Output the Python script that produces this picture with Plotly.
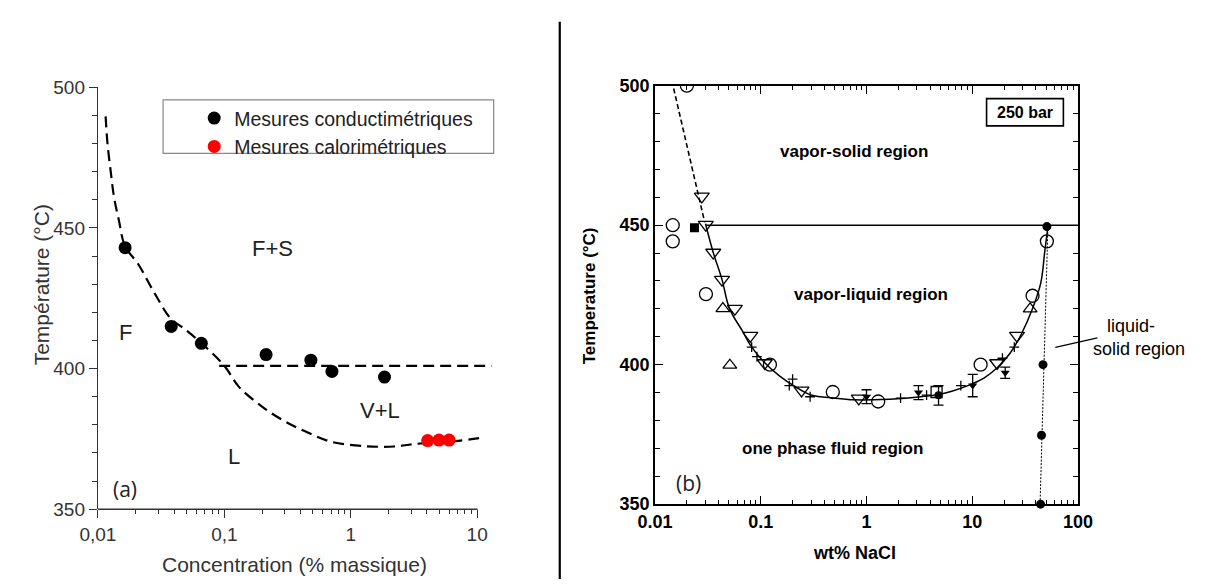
import plotly.graph_objects as go

# The page body adds an 8px margin, so the figure is 16px smaller than the window
W, H = 1189, 571
OFF = 8

def px(x):
    return (x - OFF) / W

def py(y):
    return 1 - (y - OFF) / H

# ---------------- Panel (a) data ----------------
a_curve_x = [0.0115, 0.0119, 0.0126, 0.0134, 0.0146, 0.0164, 0.0208, 0.0279, 0.0376, 0.0475,
             0.066, 0.1, 0.13, 0.2, 0.3, 0.44, 0.7, 1.33, 2.2, 3.2, 7.1, 11.5]
a_curve_t = [489.7, 480, 470.3, 461, 453, 443.5, 437.2, 427, 417.8, 414.4,
             409, 401, 393.6, 386.4, 381.3, 377.6, 374, 372.4, 372.3, 373.2, 374.3, 375.6]
a_plateau_x = [0.091, 13]
a_plateau_t = [401, 401]
cond_x = [0.0164, 0.038, 0.0658, 0.214, 0.484, 0.71, 1.85]
cond_t = [443, 415, 409, 405, 403, 399, 397]
calo_x = [4.06, 4.99, 6.0]
calo_t = [374.4, 374.6, 374.6]
a_xticks = [0.01, 0.1, 1, 10]
a_xticktext = ["0,01", "0,1", "1", "10"]
a_yticks = [350, 400, 450, 500]

# ---------------- Panel (b) data ----------------
b_dash_x = [0.015, 0.0295]
b_dash_t = [499, 451]
b_tie_x = [0.0305, 100]
b_tie_t = [450, 450]
b_curve_x = [0.0300, 0.0355, 0.043, 0.0506, 0.067, 0.08, 0.106, 0.15, 0.214, 0.3, 0.5, 0.76,
             1.16, 2.34, 4.75, 6.4, 9.1, 12.9, 17.1, 22.7, 29.1, 37.2, 44.5, 48.6, 52]
b_curve_t = [450.5, 440.2, 430.5, 420.1, 412.1, 406.9, 401.1, 396, 392, 389.1, 388, 387.4,
             387.4, 388, 389.3, 390.5, 392.5, 395.2, 398.8, 404, 410.9, 420.1, 429.3, 440.8, 449.4]
b_solid_x = [52, 43.8]
b_solid_t = [450, 350]
circ_x = [0.02, 0.0147, 0.0147, 0.0303, 0.122, 0.48, 1.29, 12.0, 37.2, 50.8]
circ_t = [500, 450, 444.2, 425.3, 400, 390.2, 386.8, 400, 424.7, 444.2]
tdown_x = [0.0277, 0.0302, 0.0355, 0.043, 0.0569, 0.0797, 0.109, 0.243, 0.845, 17.2, 26.5]
tdown_t = [460.3, 450.2, 440.2, 430.5, 420.1, 410.4, 400.6, 390.8, 387.9, 400.6, 410.4]
tup_x = [0.0438, 0.051, 35.3]
tup_t = [420.1, 399.8, 420]
sq_open_x = [4.6]
sq_open_t = [390.2]
sq_fill_x = [0.0236]
sq_fill_t = [449.1]
plus_x = [0.082, 0.092, 0.186, 0.2, 0.293, 2.1, 3.7, 7.8, 19.3, 25]
plus_t = [406.3, 402.9, 392.5, 394.8, 388.5, 388, 389.1, 392.5, 402.3, 406.3]
err_x = [1.0, 3.1, 10.1, 20.5]
err_t = [388.5, 390, 392.5, 397.1]
err_e = [2.5, 2.5, 4, 2]
errc_x = [4.8]
errc_t = [389]
errc_e = [3.5]
dot_x = [50.8, 46.7, 45.2, 44.3]
dot_t = [449.5, 400, 374.7, 350]
b_xticks = [0.01, 0.1, 1, 10, 100]
b_xticktext = ["0.01", "0.1", "1", "10", "100"]
b_yticks = [350, 400, 450, 500]

minor_log = [m * 10 ** e for e in (-2, -1, 0, 1) for m in range(2, 10)]

fig = go.Figure()

# Panel (a)
fig.add_trace(go.Scatter(x=a_curve_x, y=a_curve_t, mode="lines", line=dict(color="black", width=2.2, dash="11px,6px", shape="spline"),
                         showlegend=False, xaxis="x", yaxis="y", hoverinfo="skip"))
fig.add_trace(go.Scatter(x=a_plateau_x, y=a_plateau_t, mode="lines", line=dict(color="black", width=2.2, dash="11px,6px"),
                         showlegend=False, xaxis="x", yaxis="y", hoverinfo="skip"))
fig.add_trace(go.Scatter(x=cond_x, y=cond_t, mode="markers", marker=dict(color="black", size=13),
                         name="Mesures conductimétriques", xaxis="x", yaxis="y"))
fig.add_trace(go.Scatter(x=calo_x, y=calo_t, mode="markers", marker=dict(color="#ff0000", size=13),
                         name="Mesures calorimétriques", xaxis="x", yaxis="y"))

# Panel (b)
def add_b(x, y, **kw):
    kw.setdefault("showlegend", False)
    fig.add_trace(go.Scatter(x=x, y=y, xaxis="x2", yaxis="y2", hoverinfo="skip", **kw))

add_b(b_dash_x, b_dash_t, mode="lines", line=dict(color="black", width=1.6, dash="5px,3px"))
add_b(b_tie_x, b_tie_t, mode="lines", line=dict(color="black", width=1.5))
add_b(b_curve_x, b_curve_t, mode="lines", line=dict(color="black", width=1.5, shape="spline"))
add_b(b_solid_x, b_solid_t, mode="lines", line=dict(color="black", width=1, dash="2px,1.5px"))
add_b(plus_x, plus_t, mode="markers", marker=dict(symbol="cross-thin", size=7, line=dict(color="black", width=1.3)))
add_b(circ_x, circ_t, mode="markers", marker=dict(symbol="circle-open", size=13, color="black", line=dict(width=1.3)))
add_b(tdown_x, tdown_t, mode="markers", marker=dict(symbol="triangle-down-open", size=13, color="black", line=dict(width=1.3)))
add_b(tup_x, tup_t, mode="markers", marker=dict(symbol="triangle-up-open", size=12, color="black", line=dict(width=1.3)))
add_b(sq_open_x, sq_open_t, mode="markers", marker=dict(symbol="square-open", size=11, color="black", line=dict(width=1.3)))
add_b(sq_fill_x, sq_fill_t, mode="markers", marker=dict(symbol="square", size=9, color="black"))
add_b(err_x, err_t, mode="markers", marker=dict(symbol="triangle-down", size=8, color="black"),
      error_y=dict(type="data", array=err_e, color="black", thickness=1.3, width=5))
add_b(errc_x, errc_t, mode="markers", marker=dict(symbol="circle", size=8, color="black"),
      error_y=dict(type="data", array=errc_e, color="black", thickness=1.3, width=5))
add_b(dot_x, dot_t, mode="markers", marker=dict(symbol="circle", size=9, color="black"), cliponaxis=False)

axis_font_a = dict(family="Liberation Sans, Arial", size=19, color="#333")
axis_font_b = dict(family="Liberation Sans, Arial", size=18, color="black", weight="bold")

fig.update_layout(
    width=W, height=H,
    margin=dict(l=0, r=0, t=0, b=0),
    paper_bgcolor="white", plot_bgcolor="white",
    showlegend=True,
    legend=dict(x=px(181), y=py(92), xanchor="left", yanchor="top", bgcolor="rgba(0,0,0,0)", borderwidth=0,
                font=dict(family="Liberation Sans, Arial", size=19.5, color="#222"), tracegroupgap=0),
    xaxis=dict(domain=[px(82), px(487.6)], type="log", range=[-2, 1.12], anchor="y",
               tickvals=a_xticks, ticktext=a_xticktext, ticks="outside", ticklen=8, tickwidth=1.2, tickcolor="#333",
               showline=False, showgrid=False, zeroline=False, tickfont=axis_font_a,
               minor=dict(tickvals=minor_log, ticks="outside", ticklen=4, tickwidth=1.1, tickcolor="#333", showgrid=False)),
    yaxis=dict(domain=[py(518), py(80)], range=[350, 500], anchor="x",
               tickvals=a_yticks, ticks="outside", ticklen=8, tickwidth=1.2, tickcolor="#333",
               showline=True, linecolor="#333", linewidth=1.3, showgrid=False, zeroline=False, tickfont=axis_font_a,
               minor=dict(dtick=10, tick0=350, ticks="outside", ticklen=5, tickwidth=1.1, tickcolor="#333", showgrid=False)),
    xaxis2=dict(domain=[px(655), px(1090)], type="log", range=[-2, 2], anchor="y2",
                tickvals=b_xticks, ticktext=b_xticktext, ticks="inside", ticklen=8, tickwidth=1.3, tickcolor="black",
                showline=True, linecolor="black", linewidth=1.6, mirror="allticks", showgrid=False, zeroline=False,
                tickfont=axis_font_b,
                minor=dict(tickvals=minor_log, ticks="inside", ticklen=4, tickwidth=1.1, tickcolor="black", showgrid=False)),
    yaxis2=dict(domain=[py(512.7), py(78.3)], range=[350, 500], anchor="x2",
                tickvals=b_yticks, ticks="inside", ticklen=8, tickwidth=1.3, tickcolor="black",
                showline=True, linecolor="black", linewidth=1.6, mirror="allticks", showgrid=False, zeroline=False,
                tickfont=axis_font_b,
                minor=dict(dtick=10, tick0=350, ticks="inside", ticklen=5, tickwidth=1.1, tickcolor="black", showgrid=False)),
)

shapes = [
    dict(type="line", xref="paper", yref="paper", x0=px(82), x1=px(472.5), y0=py(518), y1=py(518),
         line=dict(color="#333", width=1.3)),
    dict(type="rect", xref="paper", yref="paper", x0=px(149), x1=px(489), y0=py(93), y1=py(148.5),
         line=dict(color="#888", width=1.2)),
    dict(type="line", xref="paper", yref="paper", x0=px(557), x1=px(557), y0=py(12), y1=py(600),
         line=dict(color="black", width=2.2)),
    dict(type="rect", xref="paper", yref="paper", x0=px(996), x1=px(1075), y0=py(91.7), y1=py(120),
         line=dict(color="black", width=1.6)),
    dict(type="line", xref="paper", yref="paper", x0=px(1066.7), x1=px(1110), y0=py(350), y1=py(340),
         line=dict(color="black", width=1.3)),
]
fig.update_layout(shapes=shapes)

def ann(text, x, y, size, color="black", bold=False, family="Liberation Sans, Arial", angle=0):
    return dict(text=text, x=px(x), y=py(y), xref="paper", yref="paper", showarrow=False,
                xanchor="center", yanchor="middle", textangle=angle,
                font=dict(family=family, size=size, color=color, weight="bold" if bold else "normal"))

annotations = [
    ann("F+S", 262, 247, 22, "#222"),
    ann("F", 110, 335, 22, "#222"),
    ann("V+L", 372, 415, 22, "#222"),
    ann("L", 222, 463, 22, "#222"),
    ann("(a)", 110, 497, 21, "#222", family="Open Sans, Liberation Sans"),
    ann("Température (°C)", 24, 285, 21, "#333", angle=-90),
    ann("Concentration (% massique)", 284, 575, 21, "#333"),
    ann("vapor-solid region", 860, 147, 17, bold=True),
    ann("vapor-liquid region", 877, 295, 17, bold=True),
    ann("one phase fluid region", 838, 455, 17, bold=True),
    ann("(b)", 689, 491, 21, "#222", family="Open Sans, Liberation Sans"),
    ann("250 bar", 1035.5, 106, 16, bold=True),
    ann("liquid-", 1145, 328, 18),
    ann("solid region", 1153, 352, 18),
    ann("Temperature (°C)", 588, 296, 17, bold=True, angle=-90),
    ann("wt% NaCl", 860, 563, 18, bold=True),
]
fig.update_layout(annotations=annotations)

fig.write_html("out.html")
